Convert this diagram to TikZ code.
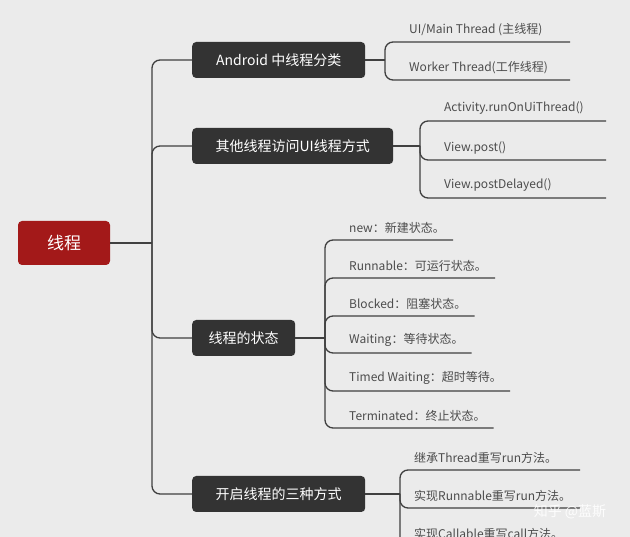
\documentclass[tikz,border=0pt]{standalone}
\usepackage{fontspec}
\setmainfont{Noto Sans CJK SC}
\usetikzlibrary{calc}
\begin{document}
\begin{tikzpicture}[x=1pt,y=-1pt,
  cat/.style={fill=black!80,text=white,rounded corners=4pt,font=\fontsize{14}{16}\selectfont,inner xsep=10pt,minimum height=36pt},
  leaf/.style={anchor=south west,inner xsep=8pt,inner ysep=6pt,text=black!70,font=\fontsize{12}{14}\selectfont},
  ln/.style={draw=black!75,line width=1.3pt,rounded corners=8pt}]
\fill[black!8] (0,0) rectangle (630,537);
\useasboundingbox (0,0) rectangle (630,537);
\node[fill=red!60!black!90,text=white,rounded corners=4pt,minimum width=92pt,minimum height=44pt,font=\fontsize{17}{19}\selectfont] (root) at (64,243) {线程};
\node[cat,anchor=west,minimum width=173pt] (c1) at (192,60) {Android 中线程分类};
\node[cat,anchor=west,minimum width=201pt] (c2) at (192,146) {其他线程访问UI线程方式};
\node[cat,anchor=west,minimum width=103pt] (c3) at (192,338) {线程的状态};
\node[cat,anchor=west,minimum width=173pt] (c4) at (192,494) {开启线程的三种方式};
\coordinate (t) at (152,243);
\draw[ln] (root.east) -- (t);
\foreach \c in {c1,c2,c3,c4} \draw[ln] (t) |- (\c.west);
% group 1
\node[leaf] (a1) at (401,42) {UI/Main Thread (主线程)};
\node[leaf] (a2) at (401,80) {Worker Thread(工作线程)};
\coordinate (b1) at (385,60);
\draw[ln] (c1.east) -- (b1);
\foreach \l in {a1,a2} \draw[ln] (b1) |- ($(\l.south west)+(169,0)$);
% group 2
\node[leaf] (d1) at (436,121) {Activity.runOnUiThread()};
\node[leaf] (d2) at (436,160) {View.post()};
\node[leaf] (d3) at (436,198) {View.postDelayed()};
\coordinate (b2) at (420,146);
\draw[ln] (c2.east) -- (b2);
\foreach \l in {d1,d2,d3} \draw[ln] (b2) |- ($(\l.south west)+(170,0)$);
% group 3
\node[leaf] (s1) at (341,240) {new：新建状态。};
\node[leaf] (s2) at (341,278) {Runnable：可运行状态。};
\node[leaf] (s3) at (341,316) {Blocked：阻塞状态。};
\node[leaf] (s4) at (341,353) {Waiting：等待状态。};
\node[leaf] (s5) at (341,391) {Timed Waiting：超时等待。};
\node[leaf] (s6) at (341,428) {Terminated：终止状态。};
\coordinate (b3) at (325,338);
\draw[ln] (c3.east) -- (b3);
\foreach \l in {s1,s2,s3,s4,s5,s6} \draw[ln] (b3) |- (\l.south east);
% group 4
\node[leaf] (m1) at (406,470) {继承Thread重写run方法。};
\node[leaf] (m2) at (406,508) {实现Runnable重写run方法。};
\node[leaf] (m3) at (406,546) {实现Callable重写call方法。};
\coordinate (b4) at (400,494);
\draw[ln] (c4.east) -- (b4);
\foreach \l in {m1,m2,m3} \draw[ln] (b4) |- ($(\l.south west)+(174,0)$);
\node[text=white,opacity=0.9,font=\fontsize{14}{16}\selectfont] (wm) at (570,512) {知乎 @蓝斯};
\end{tikzpicture}
\end{document}
